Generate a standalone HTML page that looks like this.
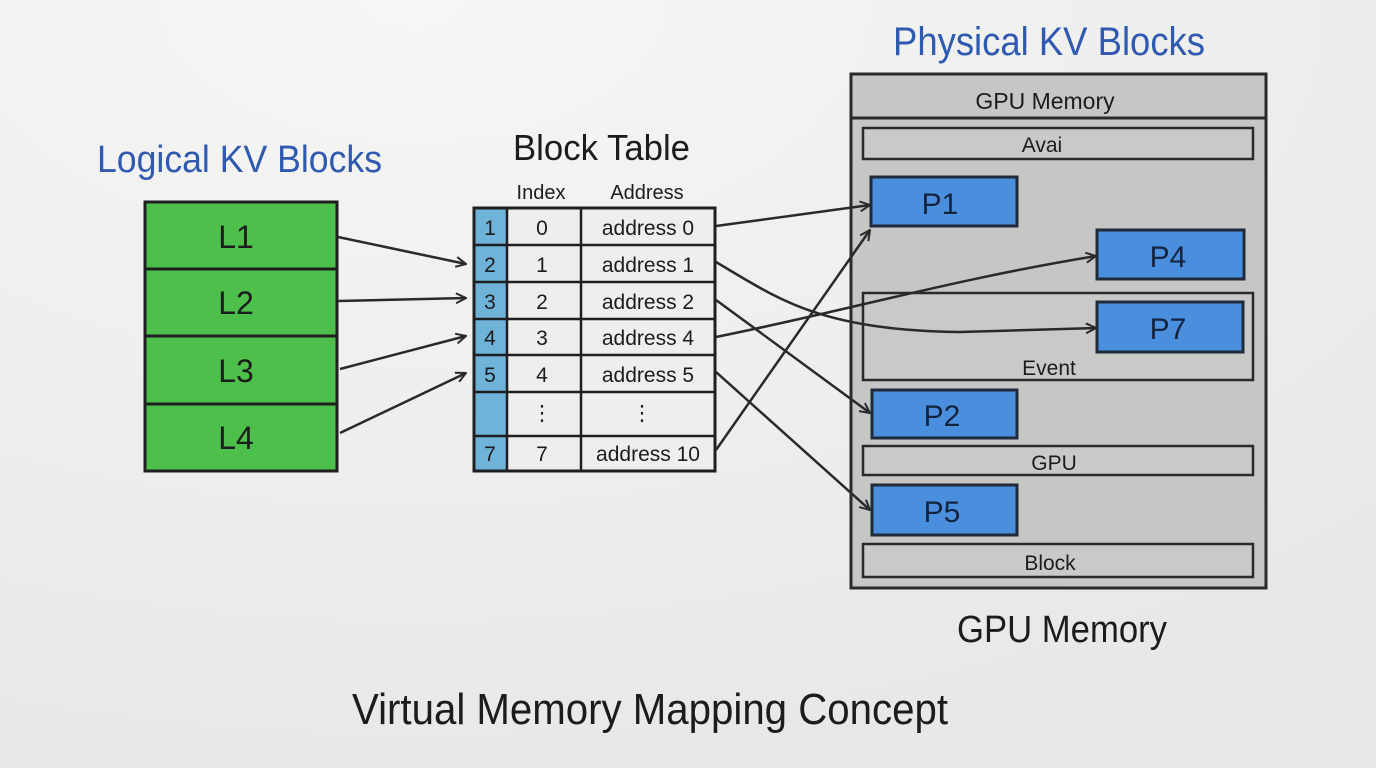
<!DOCTYPE html>
<html><head><meta charset="utf-8"><style>
html,body{margin:0;padding:0;width:1376px;height:768px;overflow:hidden;background:#ebebe9}
svg{display:block}
text{font-family:"Liberation Sans","DejaVu Sans",sans-serif}
</style></head><body>
<svg width="1376" height="768" viewBox="0 0 1376 768" xmlns="http://www.w3.org/2000/svg">
<defs>
<radialGradient id="bg" cx="0.3" cy="0" r="1">
<stop offset="0" stop-color="#f6f6f4"/><stop offset="1" stop-color="#e8e8e6"/></radialGradient>
<marker id="a" viewBox="0 0 12 12" refX="11" refY="6" markerWidth="12" markerHeight="12" markerUnits="userSpaceOnUse" orient="auto">
<path d="M1,1 L11,6 L1,11" fill="none" stroke="#2a2a2a" stroke-width="2"/></marker>
</defs>
<rect width="1376" height="768" fill="url(#bg)"/>
<!-- titles -->
<text x="97" y="172" font-size="38" fill="#2f5ab0" textLength="285" lengthAdjust="spacingAndGlyphs">Logical KV Blocks</text>
<text x="513" y="160" font-size="36" fill="#1c1c1c" textLength="177" lengthAdjust="spacingAndGlyphs">Block Table</text>
<text x="893" y="55" font-size="40" fill="#2f5ab0" textLength="312" lengthAdjust="spacingAndGlyphs">Physical KV Blocks</text>
<text x="957" y="642" font-size="38" fill="#1c1c1c" textLength="210" lengthAdjust="spacingAndGlyphs">GPU Memory</text>
<text x="352" y="724" font-size="44" fill="#1c1c1c" textLength="596" lengthAdjust="spacingAndGlyphs">Virtual Memory Mapping Concept</text>
<!-- logical -->
<g stroke="#1f1f1f" stroke-width="3" fill="#4cc04a">
<rect x="145" y="202" width="192" height="67"/><rect x="145" y="269" width="192" height="67"/>
<rect x="145" y="336" width="192" height="68"/><rect x="145" y="404" width="192" height="67"/></g>
<g font-size="32" fill="#1c1c1c" text-anchor="middle">
<text x="236" y="248">L1</text><text x="236" y="314">L2</text><text x="236" y="382">L3</text><text x="236" y="449">L4</text></g>
<!-- table -->
<text x="541" y="199" font-size="20" text-anchor="middle" fill="#1c1c1c">Index</text>
<text x="647" y="199" font-size="20" text-anchor="middle" fill="#1c1c1c">Address</text>
<rect x="474" y="208" width="241" height="263" fill="#eeeeec" stroke="#1f1f1f" stroke-width="3"/>
<rect x="474" y="208" width="33" height="263" fill="#6fb3d9"/>
<g stroke="#1f1f1f" stroke-width="2.5">
<line x1="507" y1="208" x2="507" y2="471"/><line x1="581" y1="208" x2="581" y2="471"/>
<line x1="474" y1="245" x2="715" y2="245"/><line x1="474" y1="282" x2="715" y2="282"/>
<line x1="474" y1="319" x2="715" y2="319"/><line x1="474" y1="355" x2="715" y2="355"/>
<line x1="474" y1="392" x2="715" y2="392"/><line x1="474" y1="436" x2="715" y2="436"/></g>
<rect x="474" y="208" width="241" height="263" fill="none" stroke="#1f1f1f" stroke-width="3"/>
<g font-size="21" fill="#1c1c1c" text-anchor="middle">
<text x="490" y="235">1</text><text x="542" y="235">0</text><text x="648" y="235">address 0</text>
<text x="490" y="272">2</text><text x="542" y="272">1</text><text x="648" y="272">address 1</text>
<text x="490" y="309">3</text><text x="542" y="309">2</text><text x="648" y="309">address 2</text>
<text x="490" y="345">4</text><text x="542" y="345">3</text><text x="648" y="345">address 4</text>
<text x="490" y="382">5</text><text x="542" y="382">4</text><text x="648" y="382">address 5</text>
<text x="542" y="420">⋮</text><text x="642" y="420">⋮</text>
<text x="490" y="461">7</text><text x="542" y="461">7</text><text x="648" y="461">address 10</text></g>
<!-- gpu box -->
<rect x="851" y="74" width="415" height="514" fill="#c6c6c4" stroke="#2a2a2a" stroke-width="3"/>
<line x1="851" y1="118" x2="1266" y2="118" stroke="#2a2a2a" stroke-width="3"/>
<text x="1045" y="109" font-size="23" text-anchor="middle" fill="#1c1c1c">GPU Memory</text>
<g fill="#c9c9c7" stroke="#2a2a2a" stroke-width="2.5">
<rect x="863" y="128" width="390" height="31"/><rect x="863" y="293" width="390" height="87"/>
<rect x="863" y="446" width="390" height="29"/><rect x="863" y="544" width="390" height="33"/></g>
<g font-size="21" text-anchor="middle" fill="#1c1c1c">
<text x="1042" y="152">Avai</text><text x="1049" y="375">Event</text>
<text x="1054" y="470">GPU</text><text x="1050" y="570">Block</text></g>
<g fill="#4a8fde" stroke="#1f2a3a" stroke-width="3">
<rect x="871" y="177" width="146" height="49"/><rect x="1097" y="230" width="147" height="49"/>
<rect x="1097" y="302" width="146" height="50"/><rect x="872" y="390" width="145" height="48"/>
<rect x="872" y="485" width="145" height="50"/></g>
<g font-size="30" text-anchor="middle" fill="#14233f">
<text x="940" y="214">P1</text><text x="1168" y="267">P4</text><text x="1168" y="339">P7</text>
<text x="942" y="426">P2</text><text x="942" y="522">P5</text></g>
<!-- arrows -->
<g stroke="#2a2a2a" stroke-width="2.5" fill="none" marker-end="url(#a)">
<path d="M338,237 L466,264"/><path d="M338,301 L466,298"/>
<path d="M340,369 L466,336"/><path d="M340,433 L466,373"/>
<path d="M716,226 L870,205"/>
<path d="M716,262 C780,300 820,330 960,332 L1096,328"/>
<path d="M716,300 L870,413"/>
<path d="M716,337 C850,310 950,280 1096,256"/>
<path d="M716,372 L870,510"/>
<path d="M716,450 L870,230"/>
</g>
</svg>
</body></html>
